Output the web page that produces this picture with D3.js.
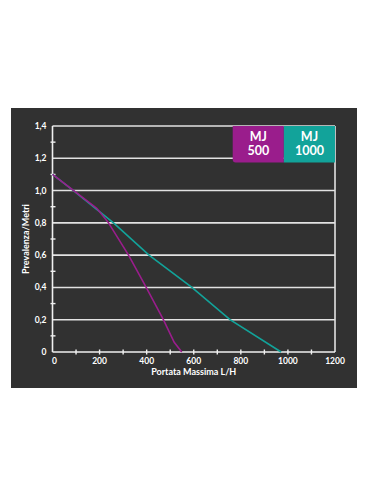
<!DOCTYPE html>
<html>
<head>
<meta charset="utf-8">
<script src="https://cdn.jsdelivr.net/npm/d3@7"></script>
<style>
  body { margin: 0; background: #fff; }
  text { font-family: "Lato", "DejaVu Sans", sans-serif; font-weight: 700; fill: #fff; }
</style>
</head>
<body>
<svg id="chart" width="370" height="500"></svg>
<script>
// Curve data (portata L/H, prevalenza m)
const mj500Flow = [0, 188, 238, 323, 398, 471, 517, 549];
const mj500Head = [1.1, 0.89, 0.8, 0.6, 0.4, 0.2, 0.06, 0];
const mj1000Flow = [0, 89, 259, 410, 592, 754, 971];
const mj1000Head = [1.1, 1.0, 0.8, 0.6, 0.4, 0.2, 0];

const seriesNames = ['MJ 500', 'MJ 1000'];
const seriesColors = ['#9a1d8c', '#12a39a'];
const xTicks = [0, 200, 400, 600, 800, 1000, 1200];
const yTicks = [0, 0.2, 0.4, 0.6, 0.8, 1.0, 1.2, 1.4];

const svg = d3.select('#chart');

// Dark panel behind the chart
svg.append('rect')
  .attr('x', 11).attr('y', 108)
  .attr('width', 346).attr('height', 280)
  .attr('fill', '#313131');

const plot = { left: 52.5, right: 335, top: 126, bottom: 352 };

const x = d3.scaleLinear().domain([0, 1200]).range([plot.left, plot.right]);
const y = d3.scaleLinear().domain([0, 1.4]).range([plot.bottom, plot.top]);

const fmt = d => d === 0 ? '0' : d3.format('.1f')(d).replace('.', ',');

// Horizontal grid lines
svg.append('g')
  .selectAll('line')
  .data(yTicks.slice(1))
  .join('line')
  .attr('x1', plot.left).attr('x2', plot.right)
  .attr('y1', d => y(d)).attr('y2', d => y(d))
  .attr('stroke', '#e2e2e2')
  .attr('stroke-width', 1.6);

// Right border
svg.append('line')
  .attr('x1', plot.right).attr('x2', plot.right)
  .attr('y1', plot.top).attr('y2', plot.bottom)
  .attr('stroke', '#e2e2e2').attr('stroke-width', 1.6);

// Axes lines
svg.append('line')
  .attr('x1', plot.left).attr('x2', plot.left)
  .attr('y1', plot.top).attr('y2', plot.bottom)
  .attr('stroke', '#f0f0f0').attr('stroke-width', 1.6);
svg.append('line')
  .attr('x1', plot.left).attr('x2', plot.right)
  .attr('y1', plot.bottom).attr('y2', plot.bottom)
  .attr('stroke', '#f0f0f0').attr('stroke-width', 1.6);

// Minor ticks on y axis (every 0.1)
svg.append('g')
  .selectAll('line')
  .data(d3.range(1, 14, 2).map(d => d / 10))
  .join('line')
  .attr('x1', plot.left - 2).attr('x2', plot.left + 3)
  .attr('y1', d => y(d)).attr('y2', d => y(d))
  .attr('stroke', '#f0f0f0').attr('stroke-width', 1.4);

// Ticks on x axis (every 100)
svg.append('g')
  .selectAll('line')
  .data(d3.range(100, 1200, 100))
  .join('line')
  .attr('x1', d => x(d)).attr('x2', d => x(d))
  .attr('y1', plot.bottom - 2.5).attr('y2', plot.bottom + 2.5)
  .attr('stroke', '#f0f0f0').attr('stroke-width', 1.4);

// Tick labels
svg.append('g')
  .selectAll('text')
  .data(yTicks)
  .join('text')
  .attr('x', plot.left - 6)
  .attr('y', d => y(d))
  .attr('dy', '0.35em')
  .attr('text-anchor', 'end')
  .attr('font-size', 8.5)
  .text(fmt);

svg.append('g')
  .selectAll('text')
  .data(xTicks)
  .join('text')
  .attr('x', d => x(d) + (d === 0 ? 2 : 0))
  .attr('y', plot.bottom + 9)
  .attr('dy', '0.35em')
  .attr('text-anchor', 'middle')
  .attr('font-size', 8.5)
  .text(d => d);

// Axis titles
svg.append('text')
  .attr('x', (plot.left + plot.right) / 2)
  .attr('y', 372)
  .attr('dy', '0.35em')
  .attr('text-anchor', 'middle')
  .attr('font-size', 9)
  .text('Portata Massima L/H');

svg.append('text')
  .attr('transform', `translate(26, ${(plot.top + plot.bottom) / 2}) rotate(-90)`)
  .attr('dy', '0.35em')
  .attr('text-anchor', 'middle')
  .attr('font-size', 9)
  .text('Prevalenza/Metri');

// Curves
const line = d3.line().x(d => x(d[0])).y(d => y(d[1]));
const curves = [
  d3.zip(mj1000Flow, mj1000Head),
  d3.zip(mj500Flow, mj500Head)
];
const curveColors = [seriesColors[1], seriesColors[0]];

svg.append('g')
  .selectAll('path')
  .data(curves)
  .join('path')
  .attr('d', line)
  .attr('fill', 'none')
  .attr('stroke', (d, i) => curveColors[i])
  .attr('stroke-width', 1.6);

// Legend boxes in the top-right corner
const boxW = (plot.right - 232.7) / 2;
const boxH = 36.5;
const legend = svg.append('g');

seriesNames.forEach((name, i) => {
  const bx = 232.7 + i * boxW;
  const g = legend.append('g');
  if (i === 0) {
    g.append('path')
      .attr('d', `M${bx},${plot.top} h${boxW} v${boxH} h${-(boxW - 3)} a3,3 0 0 1 -3,-3 z`)
      .attr('fill', seriesColors[i]);
  } else {
    g.append('rect')
      .attr('x', bx).attr('y', plot.top)
      .attr('width', boxW).attr('height', boxH)
      .attr('fill', seriesColors[i]);
  }
  const parts = name.split(' ');
  g.selectAll('text')
    .data(parts)
    .join('text')
    .attr('x', bx + boxW / 2)
    .attr('y', (d, j) => plot.top + 11 + j * 14)
    .attr('dy', '0.35em')
    .attr('text-anchor', 'middle')
    .attr('font-size', 12.5)
    .text(d => d);
});
</script>
</body>
</html>
